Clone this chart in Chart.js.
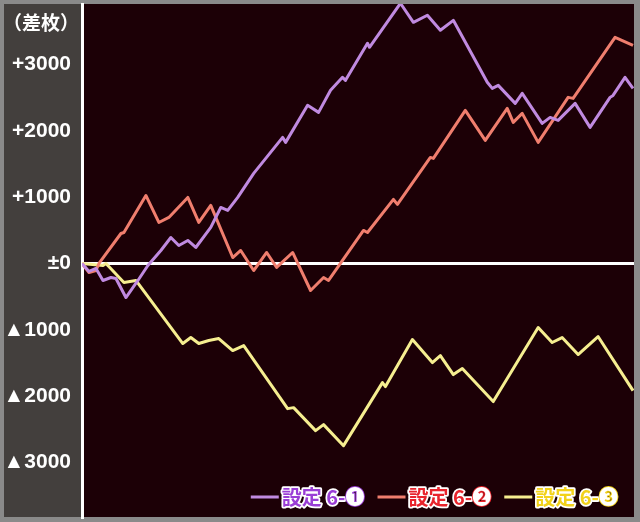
<!DOCTYPE html>
<html>
<head>
<meta charset="utf-8">
<script src="https://cdn.jsdelivr.net/npm/chart.js@4.4.1/dist/chart.umd.min.js"></script>
<style>
  html, body { margin: 0; padding: 0; background: #8a8a8a; }
  #wrap { width: 640px; height: 522px; }
</style>
</head>
<body>
<div id="wrap"><canvas id="slumpChart" width="640" height="522"></canvas></div>
<script>
// slump graph for setting 6, three sessions (x = play progress, y = coin difference)
const set1X = [0, 7, 14, 21, 29, 34, 44, 56, 66, 79, 89, 97, 106, 114, 129, 139, 146, 156, 172, 201, 204, 226, 237, 249, 261, 264, 286, 288, 319, 332, 346, 359, 372, 406, 411, 417, 434, 441, 461, 469, 477, 494, 509, 529, 532, 544, 552];
const set1Y = [0, -120, -75, -256, -211, -226, -513, -256, -30, 196, 392, 271, 347, 241, 543, 844, 799, 995, 1357, 1900, 1825, 2383, 2277, 2609, 2805, 2760, 3318, 3258, 3921, 3634, 3740, 3514, 3664, 2730, 2639, 2684, 2413, 2564, 2111, 2201, 2156, 2413, 2051, 2503, 2533, 2805, 2639];

const set2X = [0, 7, 14, 17, 39, 42, 64, 77, 87, 106, 117, 129, 151, 159, 172, 185, 195, 211, 229, 242, 247, 282, 286, 312, 316, 349, 352, 384, 404, 426, 432, 441, 457, 487, 492, 534, 552];
const set2Y = [0, -136, -106, 0, 452, 467, 1025, 618, 694, 995, 618, 875, 90, 196, -106, 166, -60, 166, -407, -211, -256, 498, 467, 965, 890, 1598, 1583, 2307, 1855, 2337, 2126, 2262, 1825, 2503, 2488, 3408, 3287];

const set3X = [0, 21, 24, 42, 54, 101, 109, 117, 127, 137, 151, 162, 206, 212, 234, 242, 262, 301, 304, 331, 351, 359, 372, 381, 412, 457, 471, 481, 497, 517, 552];
const set3Y = [0, -30, 0, -287, -256, -1206, -1116, -1206, -1161, -1131, -1312, -1237, -2187, -2172, -2518, -2428, -2745, -1795, -1855, -1146, -1493, -1387, -1674, -1583, -2081, -965, -1191, -1116, -1372, -1101, -1915];

const tickValues = [-3000, -2000, -1000, 0, 1000, 2000, 3000];
const seriesNames = ['設定 6-', '設定 6-', '設定 6-'];
const seriesMarks = ['❶', '❷', '❸'];

const lineColors = ['#c08ae0', '#f07e6e', '#f6ee90'];
const textColors = ['#9a3ed6', '#e8242c', '#f2d21a'];

const toPoints = (xs, ys) => xs.map((x, i) => ({ x: x, y: ys[i] }));

function tickLabel(v) {
	if (v === 0) return '±0';
	if (v > 0) return '+' + v;
	return '▲' + Math.abs(v);
}

// panel backgrounds, unit label and custom legend
const framePlugin = {
	id: 'frame',
	beforeDraw(chart) {
		const { ctx, chartArea: a } = chart;
		ctx.save();
		ctx.fillStyle = '#8a8a8a';
		ctx.fillRect(0, 0, chart.width, chart.height);
		ctx.fillStyle = '#433f3d';
		ctx.fillRect(4, 4, a.left - 4, a.bottom - 4);
		ctx.fillStyle = '#1c0006';
		ctx.fillRect(a.left, a.top, a.right - a.left, a.bottom - a.top);
		ctx.restore();
	},
	afterDraw(chart) {
		const { ctx, chartArea: a } = chart;
		ctx.save();
		// unit label
		ctx.font = 'bold 19px "Noto Sans CJK JP"';
		ctx.fillStyle = '#ffffff';
		ctx.textAlign = 'right';
		ctx.textBaseline = 'middle';
		ctx.fillText('（差枚）', 79, 23);

		// legend, right aligned at the bottom of the plot
		const nameFont = 'bold 20px "Noto Sans CJK JP"';
		const markFont = 'bold 19px "Noto Sans CJK JP"';
		const lineLen = 28, gapLine = 3, gapItem = 13;
		const y = 497;
		const widths = seriesNames.map((n, i) => {
			ctx.font = nameFont;
			const w1 = ctx.measureText(n).width;
			ctx.font = markFont;
			return { name: w1, mark: ctx.measureText(seriesMarks[i]).width };
		});
		let total = 0;
		widths.forEach(w => { total += lineLen + gapLine + w.name + w.mark; });
		total += gapItem * (widths.length - 1);
		let x = a.right - 16 - total;
		ctx.textAlign = 'left';
		ctx.lineJoin = 'round';
		seriesNames.forEach((n, i) => {
			ctx.strokeStyle = lineColors[i];
			ctx.lineWidth = 3;
			ctx.beginPath();
			ctx.moveTo(x, y);
			ctx.lineTo(x + lineLen, y);
			ctx.stroke();
			x += lineLen + gapLine;
			ctx.font = nameFont;
			ctx.lineWidth = 3.5;
			ctx.strokeStyle = '#ffffff';
			ctx.strokeText(n, x, y);
			ctx.fillStyle = textColors[i];
			ctx.fillText(n, x, y);
			x += widths[i].name;
			ctx.font = markFont;
			ctx.lineWidth = 2;
			ctx.strokeStyle = textColors[i];
			ctx.strokeText(seriesMarks[i], x, y);
			ctx.fillStyle = '#ffffff';
			ctx.fillText(seriesMarks[i], x, y);
			x += widths[i].mark + gapItem;
		});
		ctx.restore();
	}
};

const ctx = document.getElementById('slumpChart').getContext('2d');

const chart = new Chart(ctx, {
	type: 'line',
	data: {
		datasets: [
			{ label: '設定 6-❶', data: toPoints(set1X, set1Y), borderColor: lineColors[0] },
			{ label: '設定 6-❷', data: toPoints(set2X, set2Y), borderColor: lineColors[1] },
			{ label: '設定 6-❸', data: toPoints(set3X, set3Y), borderColor: lineColors[2] }
		].map(d => Object.assign(d, { borderWidth: 3, pointRadius: 0, tension: 0, fill: false, borderJoinStyle: 'round' }))
	},
	options: {
		responsive: false,
		animation: false,
		devicePixelRatio: 1,
		layout: { padding: { top: 4, right: 6, bottom: 5, left: 0 } },
		plugins: {
			legend: { display: false },
			tooltip: { enabled: false }
		},
		scales: {
			x: {
				type: 'linear',
				min: 0,
				max: 553,
				display: false
			},
			y: {
				min: -3820,
				max: 3910,
				afterFit: (s) => {
					s.width = 82;
					// no extra room for half label heights at the ends
					s.paddingTop = 0;
					s.paddingBottom = 0;
				},
				afterBuildTicks: (s) => { s.ticks = tickValues.map(v => ({ value: v })); },
				grid: {
					color: (c) => (c.tick && c.tick.value === 0 ? '#ffffff' : 'rgba(0,0,0,0)'),
					lineWidth: 3,
					drawTicks: false
				},
				border: { display: true, color: '#ffffff', width: 3 },
				ticks: {
					color: '#ffffff',
					padding: 11,
					font: { family: '"Liberation Sans", Arial, sans-serif', weight: 'bold', size: 21 },
					callback: (v) => tickLabel(v)
				}
			}
		}
	},
	plugins: [framePlugin]
});
</script>
</body>
</html>
